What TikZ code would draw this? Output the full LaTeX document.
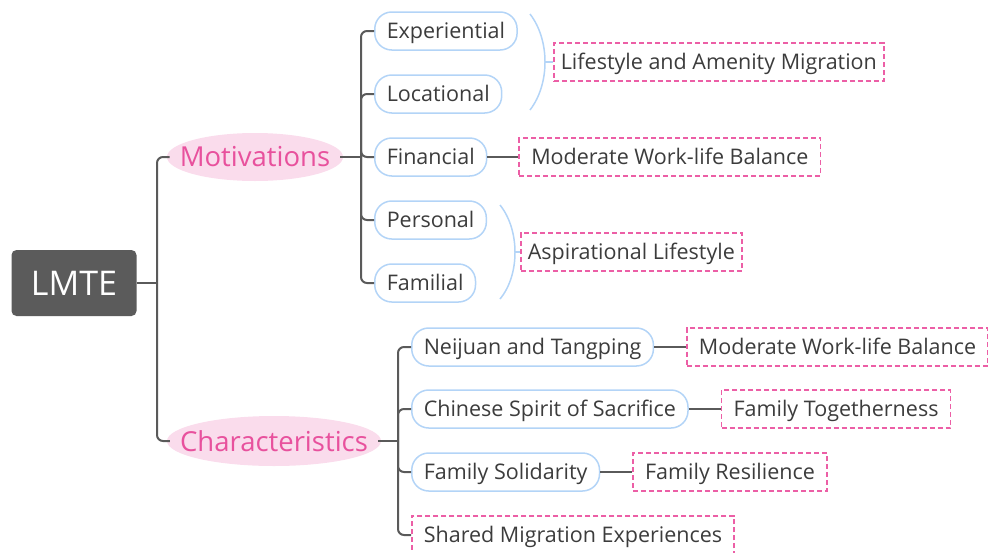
\documentclass[tikz,border=0pt]{standalone}
\usepackage{fontspec}
\setmainfont{Open Sans}
\usetikzlibrary{positioning}
\definecolor{rootgray}{HTML}{5B5B5B}
\definecolor{linegray}{HTML}{5A5A5A}
\definecolor{textgray}{HTML}{3C3C3C}
\definecolor{topicpink}{HTML}{E8519D}
\definecolor{topicfill}{HTML}{FADCEC}
\definecolor{subblue}{HTML}{B3D4F7}
\definecolor{notepink}{HTML}{EC5FA6}
\begin{document}
\begin{tikzpicture}[x=1pt,y=-1pt]
\path[use as bounding box] (0,0) rectangle (988,552);

\tikzstyle{every node}+=[font=\fontsize{21.5}{25}\selectfont,text=textgray]
\tikzstyle{root}=[fill=rootgray,rounded corners=5pt,minimum width=125pt,minimum height=66pt,text=white,font=\fontsize{34}{38}\selectfont]
\tikzstyle{topic}=[minimum height=48pt,inner xsep=10pt,text=topicpink,font=\fontsize{27.5}{30}\selectfont]
\tikzstyle{sub}=[draw=subblue,line width=1.5pt,fill=white,rounded corners=17pt,minimum height=38pt,inner xsep=12pt,text height=15pt,text depth=0pt]
\tikzstyle{note}=[draw=notepink,line width=1.6pt,dash pattern=on 5pt off 3pt,minimum height=38pt,inner xsep=12pt,text height=15pt,text depth=0pt]
\tikzstyle{conn}=[draw=linegray,line width=2pt,rounded corners=6pt]
\tikzstyle{brace}=[draw=subblue,line width=1.5pt]

% root and main topics
\node[root] (lmte) at (74,283) {LMTE};
\fill[topicfill] (255,157) ellipse [x radius=88, y radius=24];
\node[topic] (mot) at (255,157) {Motivations};
\fill[topicfill] (274,441) ellipse [x radius=107, y radius=25];
\node[topic] (cha) at (274,441) {Characteristics};

% motivations
\node[sub,anchor=west] (exp) at (374,31) {Experiential};
\node[sub,anchor=west] (loc) at (374,94) {Locational};
\node[sub,anchor=west] (fin) at (374,157) {Financial};
\node[sub,anchor=west] (per) at (374,220) {Personal};
\node[sub,anchor=west] (fam) at (374,283) {Familial};

\node[note,inner xsep=7pt,anchor=west] (lam) at (553,62) {Lifestyle and Amenity Migration};
\node[note,right=31pt of fin] (mwb1) {Moderate Work-life Balance};
\node[note,inner xsep=7pt,anchor=west] (asp) at (520,252) {Aspirational Lifestyle};

% characteristics
\node[sub,anchor=west] (nei) at (411,347) {Neijuan and Tangping};
\node[sub,anchor=west] (csp) at (411,409) {Chinese Spirit of Sacrifice};
\node[sub,anchor=west] (fso) at (411,472) {Family Solidarity};
\node[note,anchor=west] (smx) at (411,535) {Shared Migration Experiences};

\node[note,right=32pt of nei] (mwb2) {Moderate Work-life Balance};
\node[note,right=32pt of csp] (fto) {Family Togetherness};
\node[note,right=32pt of fso] (fre) {Family Resilience};

% connectors
\coordinate (j0) at (157,283);
\coordinate (j1) at (361,157);
\coordinate (j2) at (398,441);
\draw[conn] (lmte) -- (j0);
\draw[conn] (j0) |- (mot);
\draw[conn] (j0) |- (cha);
\draw[conn] (mot) -- (j1);
\foreach \n in {exp,loc,fin,per,fam}
  \draw[conn] (j1) |- (\n);
\draw[conn] (cha) -- (j2);
\foreach \n in {nei,csp,fso,smx}
  \draw[conn] (j2) |- (\n);

\draw[conn] (fin) -- (mwb1);
\draw[conn] (nei) -- (mwb2);
\draw[conn] (csp) -- (fto);
\draw[conn] (fso) -- (fre);

% braces
\coordinate (b1) at (545,62);
\coordinate (b2) at (515,252);
\draw[brace] (530,14) .. controls (550,40) and (550,84) .. (530,110);
\draw[brace] (b1) -- (lam);
\draw[brace] (500,205) .. controls (520,230) and (520,275) .. (500,299);
\draw[brace] (b2) -- (asp);
\end{tikzpicture}
\end{document}
